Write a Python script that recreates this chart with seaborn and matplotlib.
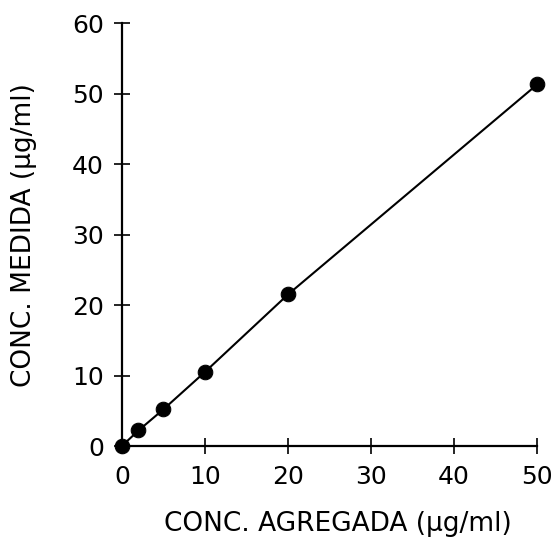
import matplotlib
matplotlib.use("Agg")
import matplotlib.pyplot as plt
import seaborn as sns
import pandas as pd

# Données
conc_agregada = [0, 2, 5, 10, 20, 50]
conc_medida = [0, 2.2, 5.2, 10.5, 21.5, 51.3]
x_ticks = [0, 10, 20, 30, 40, 50]
y_ticks = [0, 10, 20, 30, 40, 50, 60]

df = pd.DataFrame({"agregada": conc_agregada, "medida": conc_medida})

sns.set_style("ticks")
plt.rcParams["font.family"] = ["DejaVu Sans"]

fig = plt.figure(figsize=(5.59, 5.38), dpi=100)
ax = fig.add_axes([0.218, 0.171, 0.743, 0.786])

sns.lineplot(data=df, x="agregada", y="medida", ax=ax, color="black",
             linewidth=1.5, marker="o", markersize=10.5, markeredgecolor="black",
             markerfacecolor="black", clip_on=False, zorder=3)

ax.set_xlim(0, 50)
ax.set_ylim(0, 60)
ax.set_xticks(x_ticks)
ax.set_yticks(y_ticks)
ax.tick_params(direction="inout", length=12, width=1.2, labelsize=18,
               colors="black")
ax.tick_params(axis="y", pad=7)
ax.tick_params(axis="x", pad=8)
sns.despine(ax=ax)
for s in ["left", "bottom"]:
    ax.spines[s].set_linewidth(1.6)
    ax.spines[s].set_color("black")

ax.set_xlabel("CONC. AGREGADA (μg/ml)", fontsize=19, color="black", va="center")
ax.set_ylabel("CONC. MEDIDA (μg/ml)", fontsize=19, color="black", va="center")
# position des titres d'axes (coordonnées de l'axe)
ax.xaxis.set_label_coords(0.52, -0.185)
ax.yaxis.set_label_coords(-0.235, 0.5)

plt.savefig("out.png", dpi=100)
plt.close()
